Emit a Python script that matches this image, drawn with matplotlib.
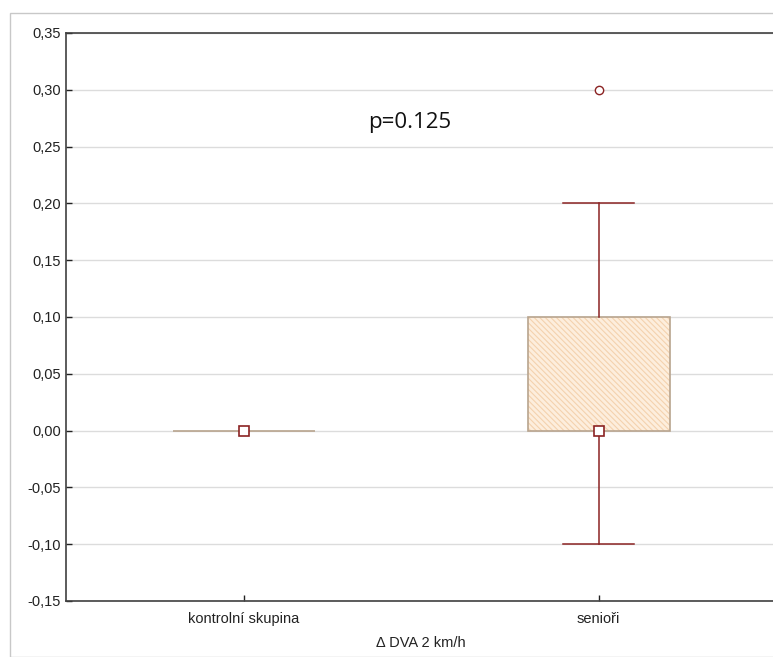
import matplotlib.pyplot as plt
from matplotlib.patches import PathPatch, Rectangle
from matplotlib.ticker import FuncFormatter, MultipleLocator

# data
groups = ['kontrolní skupina', 'senioři']
medians = [0.0, 0.0]
q1 = [0.0, 0.0]
q3 = [0.0, 0.10]
whis_lo = [0.0, -0.10]
whis_hi = [0.0, 0.20]
outliers = [[], [0.30]]

plt.rcParams['font.family'] = ['Liberation Sans', 'DejaVu Sans']
plt.rcParams['hatch.linewidth'] = 0.8

fig = plt.figure(figsize=(7.73, 6.57), dpi=100)
# grey frame around the plot, like the original export
fig.patches.append(Rectangle((10 / 773, 0), 1, 1 - 13 / 657, transform=fig.transFigure,
                             fill=False, edgecolor='#c8c8c8', lw=1, zorder=0))
ax = fig.add_axes([66 / 773, 56 / 657, 710 / 773, 568 / 657])

stats = []
for i in range(len(groups)):
    stats.append(dict(med=medians[i], q1=q1[i], q3=q3[i], whislo=whis_lo[i],
                      whishi=whis_hi[i], fliers=outliers[i], label=groups[i]))

red = '#8b2323'
bp = ax.bxp(stats, positions=range(len(groups)), widths=0.4, patch_artist=True,
            showcaps=True,
            boxprops=dict(facecolor='#fdeedd', edgecolor='#f4d2ae', hatch='\\\\\\\\\\\\', lw=0),
            whiskerprops=dict(color=red, lw=1.1),
            capprops=dict(color=red, lw=1.1),
            medianprops=dict(linestyle='none'),
            flierprops=dict(marker='o', markerfacecolor='white', markeredgecolor=red,
                            markersize=6, markeredgewidth=1.0))

for i, box in enumerate(bp['boxes']):
    box.set_zorder(2)
    ax.add_patch(PathPatch(box.get_path(), facecolor='none', edgecolor='#b8a48e',
                           lw=1.2, zorder=3))
# no caps/whiskers where whiskers collapse onto the box
for i in range(len(groups)):
    if whis_lo[i] == q1[i] and whis_hi[i] == q3[i]:
        for art in bp['caps'][2 * i:2 * i + 2] + bp['whiskers'][2 * i:2 * i + 2]:
            art.set_visible(False)
for art in bp['whiskers'] + bp['caps']:
    art.set_zorder(4)

ax.plot(range(len(groups)), medians, linestyle='none', marker='s', markersize=7,
        markerfacecolor='white', markeredgecolor=red, markeredgewidth=1.2, zorder=5)

ax.text(0.468, 0.2715, 'p=0.125', family=['Open Sans', 'DejaVu Sans'], fontsize=16,
        ha='center', va='center', color='#111111')

ax.set_xlim(-0.5, 1.5)
ax.set_ylim(-0.15, 0.35)
ax.yaxis.set_major_locator(MultipleLocator(0.05))
ax.yaxis.set_major_formatter(FuncFormatter(lambda v, p: f'{v:.2f}'.replace('.', ',')))
ax.set_xticks(range(len(groups)))
ax.set_xticklabels(groups)
ax.set_xlabel('Δ DVA 2 km/h', fontsize=10.5, color='#222222', labelpad=7)

ax.grid(axis='y', color='#dcdcdc', lw=1)
ax.set_axisbelow(True)
ax.tick_params(direction='in', length=4, labelsize=10.5, colors='#222222', width=1)
ax.tick_params(axis='x', pad=8)
for s in ['left', 'bottom', 'top']:
    ax.spines[s].set_color('#404040')
    ax.spines[s].set_linewidth(1.2)
ax.spines['right'].set_visible(False)

fig.savefig('out.png', dpi=100)
